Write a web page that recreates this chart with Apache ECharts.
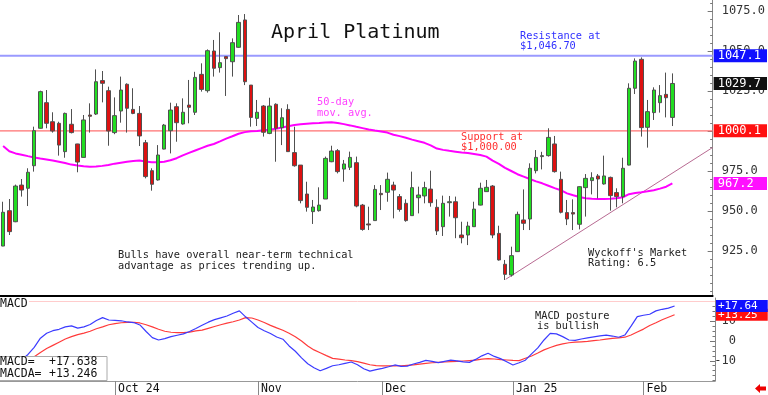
<!DOCTYPE html>
<html><head><meta charset="utf-8">
<script src="https://cdn.jsdelivr.net/npm/echarts@6/dist/echarts.min.js"></script>
<style>html,body{margin:0;padding:0;background:#fff}#c{width:768px;height:395px}</style>
</head><body><div id="c"></div>
<script>
// ---------- data ----------
const monthTickIndex = [18, 41, 61, 82, 103];
const monthTickLabels = ['Oct 24', 'Nov', 'Dec', 'Jan 25', 'Feb'];
const priceTicks = [925, 950, 975, 1000, 1025, 1050, 1075];
const macdTicks = [-10, 0, 10];

const opens = [928.1,950.2,943.3,966.2,964.2,978.3,1001.7,1017.7,1005.8,1004.8,
 987.1,1004.2,991.9,983.5,1010,1010.6,1031.5,1025.2,999,1012.5,
 1029.2,1013.5,1011,992.7,975.2,969.4,988.7,1000.2,1015.2,1004.4,
 1016.2,1011.7,1035.4,1025.2,1050,1039.6,1046.5,1043.3,1052.3,1069.4,
 1028.7,1007.9,1015.6,998.5,1016.7,1002.1,1013.5,986.5,978.7,960.6,
 949.6,950.2,957.5,980.8,987.7,976.2,977.3,980.2,953.7,941.9,
 944,961,961.7,966.2,959,954.8,947.1,958.3,959.4,963.7,
 952.3,940.2,955.2,955.8,935,935,940.2,953.7,962.1,965.6,
 936,916.7,910,924.6,944.4,945,975.2,984,984.6,991.9,
 969.8,949,949,941.7,964.6,969,971.9,966.9,971,961.5,
 959,978.7,1026.7,1044.8,1002.3,1011.5,1017.7,1022.9,1008.5];
const closes = [949.2,937.1,965.6,963.1,974.2,1000.2,1024.6,1004.8,1000,991.2,
 1011,999,980.6,1006.9,1009.2,1030.8,1029.8,1000,1009.6,1025.6,
 1014.2,1011,996.9,971.5,966.7,985,1003.7,1013.1,1005.2,1011.7,
 1014.8,1033.5,1026,1050.2,1039.2,1042.7,1045.2,1055.2,1067.9,1030.8,
 1008.5,1011.7,999.2,1015.6,1001.7,1008.3,987.1,978.3,956.5,952.3,
 952.5,953.7,982.9,987.5,974.6,979.4,983.5,953.1,938.5,941.3,
 963.5,960.2,969.8,963.1,951,944,964.6,960,964.6,955.2,
 937.5,954.8,955.8,945.8,933.3,940.6,951.2,964.2,964.8,935,
 919.4,910.4,922.1,947.9,942.3,976.7,983.5,984.6,996,974.6,
 949.2,945,948.1,965.2,970.4,970.8,970,971.9,959.6,959,
 976.7,1026.7,1043.7,1002.1,1012.1,1025.6,1022.1,1020.8,1029.7];
const lows = [928,935,943,959,953.1,974.6,1001.5,1001.7,999,984.6,
 983.3,998.5,974.2,983.5,999,1010,1017.9,990.8,998,1005.2,
 999,1010.5,990.6,970.4,962.7,969,988.5,986,993.3,1004,
 1004.8,1010,1024.6,1024,1034,1036.5,1021.9,1034,1052,1028.7,
 1002.7,1003.1,996.5,998,980.8,991.2,987,977.7,954.8,949.6,
 941.9,949.6,957.5,980.5,973.5,968.3,975.6,952.3,937.7,938.1,
 944,950.6,955.8,945.4,949.6,943.3,947,948.5,954.8,952.7,
 935,934.4,946.5,933,929.8,928.7,940,953.5,962,933,
 919,906.9,909,924.5,938.1,938.1,973.5,976,984,974,
 948.5,941.2,938.1,938.5,946.5,960.4,957.9,966.5,950.2,952.3,
 954.8,978.5,1023.1,996.5,989.6,1006.9,1011.5,1008.5,1003.1];
const highs = [955.8,957.5,966.5,970,976.7,1002.7,1025.2,1025.6,1011.7,1005.8,
 1011.5,1013.7,992,1010,1017.3,1038.5,1037.5,1027.7,1021,1034,
 1029.8,1026.7,1015.6,994.4,976.7,991.2,1004.4,1017.7,1017.3,1020.4,
 1031.9,1037,1042.3,1051,1056.9,1061.7,1046.5,1057.9,1072.5,1073.1,
 1028.7,1019.4,1016.2,1020.8,1017.3,1014.2,1016.7,1002.7,978.7,968.3,
 956.9,964.8,984,990.8,988.7,981.9,987.1,984,954.4,952.7,
 966.2,966.2,974,968.3,960.6,957.3,974.6,965.2,968.3,975.2,
 957.3,959.6,959.4,959,943.3,943.3,955.8,967.7,969.4,966.2,
 940.8,919.4,927.7,949.6,963.5,979.8,988.1,987,1001.7,996.9,
 974.6,956.9,957.3,965.5,973.1,974.2,973.1,984.6,971.5,964.2,
 983.3,1029.8,1045.4,1046,1019.4,1027.3,1028.7,1036.5,1036];
const ma50 = [990.6,987.3,986,985.2,984.3,983.5,982.8,982.2,981.5,980.8,
 980,979,978.4,978,977.7,977.8,978.2,978.8,979.6,980.2,
 980.8,981.2,981.5,981,980.5,980.4,980.8,981.7,983,984.8,
 986.3,987.8,989.3,990.8,991.9,993.5,995.2,996.7,998.3,999.3,
 999.8,1000,1000.4,1000.8,1001.4,1002.2,1003,1003.7,1004.2,1004.5,
 1004.8,1005,1005.3,1005.4,1005,1004.3,1003.5,1002.6,1001.8,1001,
 1000.3,999.7,999,997.7,996.8,995.8,994.6,993.6,992.6,991,
 989,988.2,987.6,987.1,986.6,986.2,985.6,985,984,981.5,
 979.5,977,975,973,971.5,970,968.5,967.3,965.8,964.3,
 963,961,959.8,958.8,958,957.6,957.5,957.5,957.6,958,
 958.6,960.5,961.2,961.7,962.3,963,964,965.2,967.2];
const macd = [-14,-12.5,-11,-9.5,-6.8,-3.2,1.4,3.9,5.2,5.9,
 7.1,7.6,6.5,7.1,8.3,10.3,11.8,10.6,10.4,10.2,
 9.6,9.3,8.1,4.8,1.7,0.5,1.2,2.2,2.9,3.6,
 4.8,6.3,7.9,9.5,10.8,11.7,12.6,14,15.2,12.2,
 9.5,6.8,5.2,3.8,2,0.9,-2.5,-5.2,-8.5,-11.5,
 -13.5,-15,-13.8,-12.5,-12,-11.3,-10.6,-12,-14,-15.2,
 -14.5,-13.8,-13,-12.1,-12.8,-12.7,-11.6,-10.8,-9.8,-10.3,
 -10.9,-10.3,-9.7,-10,-10.5,-10.8,-9.3,-7.5,-6.2,-7.8,
 -8.9,-10.5,-12.1,-11,-9.7,-6.5,-3.5,0.5,3.8,3.6,
 2.2,0.5,0.3,1,1.6,2.1,2.6,3,2.5,1.9,
 3,7.5,12.3,13,13.5,15.2,16,16.6,17.638];
const macda = [-13,-12,-11,-10,-8.8,-7.9,-5.8,-3.8,-2.2,-0.6,
 1,2.2,3.2,4,4.9,6.2,7.1,8.2,8.8,9.2,
 9.4,9.4,9.1,8.2,7.1,5.9,4.9,4.4,4.2,4.2,
 4.5,5.1,5.5,6.4,7.3,8.2,9,9.7,10.6,11.8,
 11.6,10.6,9.3,7.9,6.6,5.4,3.9,2.1,0,-2.5,
 -4.5,-5.9,-7.4,-8.8,-9.2,-9.6,-9.9,-10.4,-11.2,-12,
 -12.4,-12.6,-12.6,-12.6,-12.5,-12.3,-12.1,-11.7,-11.3,-11,
 -10.8,-10.6,-10.4,-10.3,-10.1,-9.9,-9.7,-9.2,-8.9,-9.1,
 -9.4,-9.6,-9.8,-9.9,-8.7,-7.6,-6.1,-4.5,-3.3,-2.2,
 -1.5,-0.9,-0.6,-0.4,-0.2,0.2,0.5,0.9,1.3,1.6,
 1.9,3,4.5,6,7.8,9.2,10.7,12,13.246];
const resistanceLevel = 1047.1;
const supportLevel = 1000.1;
const macdRefLevel = 20;
const trendLine = [[81.1, 907.3], [114.5, 989.7]];

// ---------- build ----------
const N_SLOTS = 115;
const MONO = '"DejaVu Sans Mono", monospace';
const categories = Array.from({length: N_SLOTS}, (_, i) => String(i));
const tickMap = {};
monthTickIndex.forEach((ix, k) => { tickMap[ix] = monthTickLabels[k]; });
const candleData = opens.map((o, i) => [o, closes[i], lows[i], highs[i]]);
const priceMinor = []; for (let v = 900; v <= 1080; v += 5) priceMinor.push(v);
const macdMinor = []; for (let v = -20; v <= 20; v += 2.5) macdMinor.push(v);
const xLo = -0.5, xHi = N_SLOTS - 0.5;
const levelLine = (lv) => [[xLo, lv], [xHi, lv]];

const HIDDEN = { color: 'rgba(0,0,0,0)', width: 0 };
function tagLabel(text, bg, fs, pad) {
  return { show: true, position: 'end', distance: 1, formatter: text,
    backgroundColor: bg, color: '#fff', fontFamily: MONO, fontSize: fs, lineHeight: fs + 1, padding: pad };
}
const lastClose = closes[closes.length - 1];
const lastMa = ma50[ma50.length - 1];
const lastMacd = macd[macd.length - 1];
const lastMacda = macda[macda.length - 1];

function txt(text, x, y, color, size) {
  return { type: 'text', x: x, y: y, z: 100,
    style: { text: text, fill: color, font: size + 'px ' + MONO, verticalAlign: 'middle', textVerticalAlign: 'middle' } };
}
const annColor = '#222';
const fs = 10.3;
const PAD = [0, 6, 0, 4];

const option = {
  animation: false,
  backgroundColor: '#fff',
  grid: [
    { left: 0, right: 53, top: 0, height: 296 },
    { left: 0, right: 53, top: 298, height: 83 }
  ],
  xAxis: [
    { type: 'category', gridIndex: 0, data: categories, boundaryGap: true,
      axisLine: { show: true, onZero: false, lineStyle: { color: '#000', width: 2 } },
      axisTick: { show: false }, axisLabel: { show: false }, splitLine: { show: false } },
    { type: 'category', gridIndex: 1, data: categories, boundaryGap: true,
      axisLine: { show: true, onZero: false, lineStyle: { color: '#999', width: 1 } },
      axisTick: { show: true, alignWithLabel: true, interval: (i) => tickMap[i] !== undefined, length: 14, lineStyle: { color: '#888' } },
      axisLabel: { show: true, interval: (i) => tickMap[i] !== undefined, formatter: (v, i) => tickMap[i] || '',
        align: 'left', margin: 2, padding: [0, 0, 0, 3], fontFamily: MONO, fontSize: 11.5, color: '#111' },
      splitLine: { show: false } },
    { type: 'value', gridIndex: 0, min: xLo, max: xHi, show: false, axisLine: { onZero: false } }
  ],
  yAxis: [
    { type: 'value', gridIndex: 0, position: 'right', min: 896.875, max: 1081.875,
      splitLine: { show: false },
      axisLine: { show: true, onZero: false, lineStyle: { color: '#888' } },
      axisTick: { show: true, inside: true, length: 5, customValues: priceTicks, lineStyle: { color: '#777' } },
      axisLabel: { show: true, customValues: priceTicks, formatter: (v) => Number(v).toFixed(1), margin: 9,
        fontFamily: MONO, fontSize: 12, color: '#333' } },
    { type: 'value', gridIndex: 0, position: 'right', min: 896.875, max: 1081.875,
      splitLine: { show: false }, axisLine: { show: false, onZero: false },
      axisTick: { show: true, inside: true, length: 2.5, customValues: priceMinor, lineStyle: { color: '#777' } },
      axisLabel: { show: false } },
    { type: 'value', gridIndex: 1, position: 'right', min: -20.2, max: 21.7,
      splitLine: { show: false },
      axisLine: { show: true, onZero: false, lineStyle: { color: '#888' } },
      axisTick: { show: true, inside: true, length: 5, customValues: macdTicks, lineStyle: { color: '#777' } },
      axisLabel: { show: true, customValues: macdTicks, formatter: (v) => String(v), align: 'right', margin: 21,
        fontFamily: MONO, fontSize: 12, color: '#333' } },
    { type: 'value', gridIndex: 1, position: 'right', min: -20.2, max: 21.7,
      splitLine: { show: false }, axisLine: { show: false, onZero: false },
      axisTick: { show: true, inside: true, length: 2.5, customValues: macdMinor, lineStyle: { color: '#777' } },
      axisLabel: { show: false } }
  ],
  series: [
    { type: 'line', name: 'trend', xAxisIndex: 2, yAxisIndex: 0, data: trendLine, showSymbol: false, z: 1,
      lineStyle: { color: '#b86a92', width: 1 }, silent: true },
    { type: 'line', name: 'resistance', xAxisIndex: 2, yAxisIndex: 0, data: levelLine(resistanceLevel), showSymbol: false, z: 1,
      lineStyle: { color: '#9a9aff', width: 2 }, silent: true },
    { type: 'line', name: 'support', xAxisIndex: 2, yAxisIndex: 0, data: levelLine(supportLevel), showSymbol: false, z: 1,
      lineStyle: { color: '#ff7070', width: 1.2 }, silent: true },
    { type: 'line', name: 'ma50', xAxisIndex: 0, yAxisIndex: 0, data: ma50, showSymbol: false, z: 2,
      lineStyle: { color: '#ff00ff', width: 2 }, silent: true,
      markLine: { symbol: ['none', 'none'], silent: true, animation: false,
        data: [
          { yAxis: resistanceLevel, lineStyle: HIDDEN, label: tagLabel(resistanceLevel.toFixed(1), '#1010ff', 12, PAD) },
          { yAxis: supportLevel, lineStyle: HIDDEN, label: tagLabel(supportLevel.toFixed(1), '#ff1010', 12, PAD) },
          { yAxis: lastClose, lineStyle: HIDDEN, label: tagLabel(lastClose.toFixed(1), '#111', 12, PAD) },
          { yAxis: lastMa, lineStyle: HIDDEN, label: tagLabel(lastMa.toFixed(1) + ' ', '#ff10ff', 12, PAD) }
        ] } },
    { type: 'candlestick', name: 'price', xAxisIndex: 0, yAxisIndex: 0, data: candleData, barWidth: 4, z: 3,
      itemStyle: { color: '#22dd22', color0: '#dd1111', borderColor: '#505050', borderColor0: '#505050', borderWidth: 1 } },
    { type: 'line', name: 'MACDA', xAxisIndex: 1, yAxisIndex: 2, data: macda, showSymbol: false, z: 2,
      lineStyle: { color: '#ff3b3b', width: 1.2 }, silent: true,
      markLine: { symbol: ['none', 'none'], silent: true, animation: false,
        data: [
          { yAxis: macdRefLevel, lineStyle: { color: '#ffcccc', width: 1, type: 'solid' }, label: { show: false } },
          { yAxis: lastMacda, lineStyle: HIDDEN, label: tagLabel('+' + lastMacda.toFixed(2), '#ff1010', 11, [0, 10, 0, 2]) }
        ] } },
    { type: 'line', name: 'MACD', xAxisIndex: 1, yAxisIndex: 2, data: macd, showSymbol: false, z: 3,
      lineStyle: { color: '#3b3bff', width: 1.2 }, silent: true,
      markLine: { symbol: ['none', 'none'], silent: true, animation: false,
        data: [ { yAxis: lastMacd, lineStyle: HIDDEN, label: tagLabel('+' + lastMacd.toFixed(2), '#1010ff', 11, [0, 10, 0, 2]) } ] } }
  ],
  graphic: [
    txt('April Platinum', 271, 33, '#111', 20),
    txt('Resistance at', 520, 36, '#3030ff', fs),
    txt('$1,046.70', 520, 46.5, '#3030ff', fs),
    txt('50-day', 317, 102, '#ff40ff', fs),
    txt('mov. avg.', 317, 113, '#ff40ff', fs),
    txt('Support at', 461, 137, '#ff3030', fs),
    txt('$1,000.00', 461, 147, '#ff3030', fs),
    txt('Bulls have overall near-term technical', 118, 255, annColor, fs),
    txt('advantage as prices trending up.', 118, 266, annColor, fs),
    txt("Wyckoff's Market", 588, 253, annColor, fs),
    txt('Rating: 6.5', 588, 263.5, annColor, fs),
    txt('MACD posture', 535, 316, annColor, fs),
    txt('is bullish', 537, 326, annColor, fs),
    { type: 'rect', z: 99, shape: { x: 0, y: 298, width: 29, height: 12 }, style: { fill: '#fff' } },
    txt('MACD', 0, 304, '#111', 11.5),
    { type: 'rect', z: 99, shape: { x: -1, y: 356.5, width: 108, height: 24 }, style: { fill: '#fff', stroke: '#aaa', lineWidth: 1 } },
    txt('MACD=', 0, 362, '#111', 11.5),
    txt('+' + lastMacd.toFixed(3), 49, 362, '#111', 11.5),
    txt('MACDA=', 0, 374, '#111', 11.5),
    txt('+' + lastMacda.toFixed(3), 49, 374, '#111', 11.5),
    { type: 'polygon', z: 100, shape: { points: [[755, 388.5], [760, 384], [760, 386.5], [766, 386.5], [766, 390.5], [760, 390.5], [760, 393]] },
      style: { fill: '#ee0000' } }
  ]
};

const chart = echarts.init(document.getElementById('c'), null, { renderer: 'canvas' });
chart.setOption(option);
</script>
</body></html>
